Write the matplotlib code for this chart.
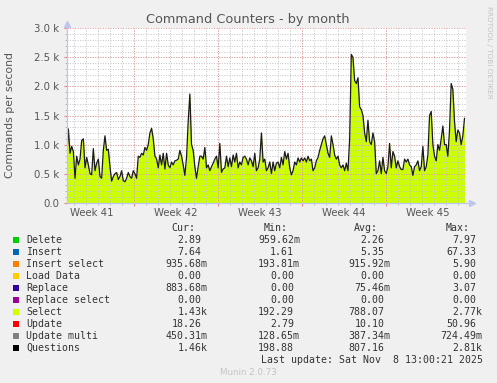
import matplotlib
matplotlib.use('Agg')
import matplotlib.pyplot as plt
import numpy as np

# questions per second (k), oldest first
questions_k = [
    0.75, 1.27, 0.85, 0.97, 0.88, 0.42, 0.80, 0.65, 0.75, 1.07, 1.10, 0.60, 0.78, 0.65, 0.50, 0.48,
    0.93, 0.55, 0.68, 0.75, 0.45, 0.42, 0.90, 1.15, 0.90, 0.92, 0.62, 0.37, 0.45, 0.50, 0.52, 0.40,
    0.45, 0.55, 0.38, 0.36, 0.42, 0.52, 0.45, 0.42, 0.55, 0.50, 0.42, 0.80, 0.78, 0.85, 0.82, 0.95,
    0.90, 1.00, 1.20, 1.28, 1.10, 0.80, 0.75, 0.60, 0.82, 0.65, 0.85, 0.58, 0.85, 0.65, 0.60, 0.70,
    0.65, 0.72, 0.73, 0.75, 0.90, 0.80, 0.65, 0.47, 0.78, 1.40, 1.87, 1.00, 0.90, 0.62, 0.42, 0.62,
    0.80, 0.80, 0.75, 0.95, 0.60, 0.65, 0.55, 0.62, 0.68, 0.75, 0.80, 0.60, 1.02, 0.52, 0.58, 0.60,
    0.80, 0.62, 0.77, 0.62, 0.82, 0.70, 0.85, 0.60, 0.70, 0.65, 0.78, 0.80, 0.75, 0.65, 0.77, 0.72,
    0.62, 0.85, 0.55, 0.60, 0.75, 1.20, 0.70, 0.75, 0.55, 0.60, 0.70, 0.50, 0.70, 0.55, 0.68, 0.70,
    0.60, 0.78, 0.65, 0.88, 0.75, 0.85, 0.60, 0.48, 0.55, 0.70, 0.65, 0.77, 0.70, 0.77, 0.72, 0.77,
    0.70, 0.80, 0.72, 0.75, 0.55, 0.60, 0.72, 0.78, 0.90, 1.00, 1.10, 1.15, 1.00, 0.85, 0.78, 1.15,
    1.00, 0.82, 0.75, 0.80, 0.65, 0.60, 0.65, 0.55, 0.68, 0.55, 1.10, 2.55, 2.50, 2.10, 2.05, 2.15,
    1.65, 1.60, 1.50, 1.20, 1.05, 1.42, 1.05, 1.00, 1.20, 1.05, 0.50, 0.55, 0.72, 0.50, 0.78, 0.55,
    0.50, 0.62, 1.02, 0.60, 0.88, 0.80, 0.60, 0.72, 0.62, 0.57, 0.57, 0.75, 0.70, 0.75, 0.65, 0.62,
    0.47, 0.62, 0.65, 0.72, 0.55, 0.62, 0.97, 0.55, 0.62, 0.82, 1.50, 1.57, 1.00, 0.80, 0.72, 1.00,
    0.90, 1.10, 1.32, 1.00, 1.00, 0.80, 1.25, 2.05, 1.95, 1.40, 1.05, 1.25, 1.20, 1.00, 1.15, 1.45,
]

week_labels = ['Week 41', 'Week 42', 'Week 43', 'Week 44', 'Week 45']

series = ['Delete', 'Insert', 'Insert select', 'Load Data', 'Replace',
          'Replace select', 'Select', 'Update', 'Update multi', 'Questions']
series_colors = ['#00CC00', '#0066B3', '#FF8000', '#FFCC00', '#330099',
                 '#990099', '#CCFF00', '#FF0000', '#808080', '#000000']
cur = ['2.89', '7.64', '935.68m', '0.00', '883.68m', '0.00', '1.43k', '18.26', '450.31m', '1.46k']
mn = ['959.62m', '1.61', '193.81m', '0.00', '0.00', '0.00', '192.29', '2.79', '128.65m', '198.88']
avg = ['2.26', '5.35', '915.92m', '0.00', '75.46m', '0.00', '788.07', '10.10', '387.34m', '807.16']
mx = ['7.97', '67.33', '5.90', '0.00', '3.07', '0.00', '2.77k', '50.96', '724.49m', '2.81k']

W, H = 497, 383
DPI = 100
BG = '#F0F0F0'

def fx(x):
    return x / W

def fy(y):
    return 1 - y / H

fig = plt.figure(figsize=(W / DPI, H / DPI), dpi=DPI, facecolor=BG)
left, right, top, bottom = 66.7, 466.0, 28.3, 202.7
ax = fig.add_axes([fx(left), fy(bottom), fx(right - left), (bottom - top) / H])
ax.set_facecolor('white')

# time in hours, 2 hours per pixel
span = (right - left) * 2
hours = np.linspace(0, span - 3, len(questions_k))
vals = np.array(questions_k) * 1000

ax.fill_between(hours, 0, vals, color='#CCFF00', lw=0, zorder=2)
ax.plot(hours, vals, color='#1a1a1a', lw=0.9, zorder=4)

ax.set_xlim(0, span)
ax.set_ylim(0, 3000)

week0 = (134.2 - left) * 2
majors = week0 + 168 * np.arange(0, 4)
minors = np.arange(week0 - 24 * 5, span, 24)
minors = minors[(minors > 0) & (minors < span)]

gray_grid = '#c4c4c4'
red_grid = '#e89898'
dots = (0, (1, 1.6))
for m in minors:
    ax.axvline(m, color=gray_grid, lw=0.7, ls=dots, zorder=3)
for v in np.arange(100, 3000, 100):
    ax.axhline(v, color=gray_grid, lw=0.7, ls=dots, zorder=3)
for m in majors:
    ax.axvline(m, color=red_grid, lw=0.7, ls=dots, zorder=3.2)
for v in np.arange(500, 3001, 500):
    ax.axhline(v, color=red_grid, lw=0.7, ls=dots, zorder=3.2)

ax.set_xticks(majors)
ax.set_xticks(minors, minor=True)
ax.set_xticklabels([])
ax.tick_params(axis='x', which='major', length=2.5, color='#f08080', width=0.8)
ax.tick_params(axis='x', which='minor', length=1.5, color='#b0b0b0', width=0.6)

ax.set_yticks(np.arange(0, 3001, 500))
ax.set_yticks(np.arange(0, 3001, 100), minor=True)
ax.set_yticklabels(['0.0', '0.5 k', '1.0 k', '1.5 k', '2.0 k', '2.5 k', '3.0 k'])
ax.tick_params(axis='y', which='major', length=2.5, color='#f08080', width=0.8,
               labelsize=7.3, labelcolor='#555555', pad=3)
ax.tick_params(axis='y', which='minor', length=1.5, color='#b0b0b0', width=0.6)

for s in ['top', 'right']:
    ax.spines[s].set_visible(False)
for s in ['left', 'bottom']:
    ax.spines[s].set_color('#bcc6f0')
    ax.spines[s].set_linewidth(0.9)
    ax.spines[s].set_zorder(5)

# axis arrows
ax.plot([1.015], [0], marker='>', ms=4, color='#bcc6f0', transform=ax.transAxes, clip_on=False)
ax.plot([0], [1.025], marker='^', ms=4, color='#bcc6f0', transform=ax.transAxes, clip_on=False)
ax.plot([1, 1.015], [0, 0], color='#bcc6f0', lw=0.9, transform=ax.transAxes, clip_on=False)
ax.plot([0, 0], [1, 1.025], color='#bcc6f0', lw=0.9, transform=ax.transAxes, clip_on=False)

for i, lab in enumerate(week_labels):
    xc = week0 - 84 + 168 * i
    ax.text(xc, -0.058, lab, transform=ax.get_xaxis_transform(), ha='center', va='center',
            fontsize=7.3, color='#555555')

fig.text(fx(248), fy(19.5), 'Command Counters - by month', ha='center', va='center',
         fontsize=9.3, color='#555555')
fig.text(fx(10), fy(115), 'Commands per second', rotation=90, ha='center', va='center',
         fontsize=7.8, color='#555555')
fig.text(fx(489), fy(6), 'RRDTOOL / TOBI OETIKER', rotation=270, ha='center', va='top',
         fontsize=5.2, color='#c4c4c4')

# legend table
mono = 'DejaVu Sans Mono'
fs = 7.1
cw = fs * DPI / 72 * 0.6021
txtc = '#333333'

def val_text(x_end, y, s):
    # suffix letter hangs past the column edge, like rrdtool
    if s[-1] in 'mk':
        fig.text(fx(x_end), fy(y), s, ha='right', va='center', family=mono, fontsize=fs, color=txtc)
    else:
        fig.text(fx(x_end - cw), fy(y), s, ha='right', va='center', family=mono, fontsize=fs, color=txtc)

hy = 227.7
for name, xe in [('Cur:', 195.0), ('Min:', 287.3), ('Avg:', 377.7), ('Max:', 470.0)]:
    fig.text(fx(xe), fy(hy), name, ha='right', va='center', family=mono, fontsize=fs, color=txtc)

for i, name in enumerate(series):
    y = 239.7 + 12 * i
    fig.patches.append(plt.Rectangle((fx(13), fy(y + 3)), 6 / W, 6 / H, transform=fig.transFigure,
                                     facecolor=series_colors[i], edgecolor='none'))
    fig.text(fx(26.3), fy(y), name, ha='left', va='center', family=mono, fontsize=fs, color=txtc)
    val_text(207.6, y, cur[i])
    val_text(300.0, y, mn[i])
    val_text(390.7, y, avg[i])
    val_text(482.7, y, mx[i])

fig.text(fx(482.7), fy(359.7), 'Last update: Sat Nov  8 13:00:21 2025', ha='right', va='center',
         family=mono, fontsize=fs, color=txtc)
fig.text(fx(248), fy(372.3), 'Munin 2.0.73', ha='center', va='center', fontsize=6.3, color='#c4c4c4')

fig.savefig('out.png', dpi=DPI, facecolor=BG)
